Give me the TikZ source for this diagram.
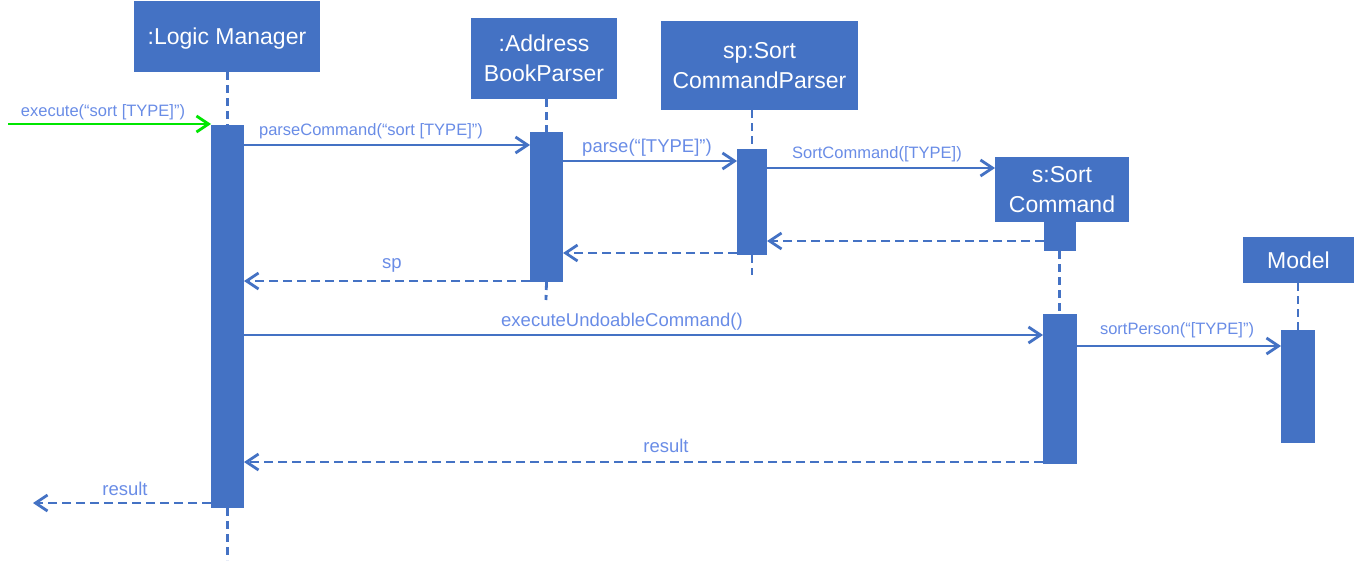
\documentclass[tikz,border=0pt]{standalone}
\usepackage{fontspec}
\setmainfont{Liberation Sans}
\usetikzlibrary{arrows.meta}
\definecolor{uml}{RGB}{68,114,196}
\definecolor{lbl}{RGB}{105,140,230}
\definecolor{grn}{RGB}{0,230,0}
\begin{document}
\begin{tikzpicture}[x=1pt,y=-1pt,
  obj/.style={fill=uml, text=white, inner sep=0pt, outer sep=0pt, anchor=north west, align=center,
    font=\fontsize{23}{30}\selectfont},
  actbar/.style={fill=uml, inner sep=0pt, outer sep=0pt, anchor=north west},
  life/.style={draw=uml, line width=2.8pt, dash pattern=on 8pt off 5pt},
  msg/.style={draw=uml, line width=2.8pt, -{Straight Barb[length=12pt,width=16pt,line width=2.8pt]}},
  ret/.style={draw=uml, line width=2.8pt, dash pattern=on 9pt off 5pt, -{Straight Barb[length=12pt,width=16pt,line width=2.8pt]}},
  lab/.style={text=lbl, inner sep=0pt, anchor=base, font=\fontsize{16.5}{18}\selectfont},
  labb/.style={text=lbl, inner sep=0pt, anchor=base, font=\fontsize{18.5}{20}\selectfont}
]
\useasboundingbox (0,0) rectangle (1354,562);

% objects
\node[obj, minimum width=186pt, minimum height=71pt, text depth=0pt] (lm) at (134,1) {:Logic Manager};
\node[obj, minimum width=146pt, minimum height=81pt] (abp) at (471,18) {:Address\\BookParser};
\node[obj, minimum width=197pt, minimum height=89pt] (scp) at (661,21) {sp:Sort\\CommandParser};
\node[obj, minimum width=134pt, minimum height=65pt] (sc) at (995,157) {s:Sort\\Command};
\node[obj, minimum width=111pt, minimum height=46pt] (model) at (1243,237) {Model};

% activation bars
\node[actbar, minimum width=33pt, minimum height=383pt] (lmact) at (211,125) {};
\node[actbar, minimum width=33pt, minimum height=150pt] (abpact) at (530,132) {};
\node[actbar, minimum width=30pt, minimum height=106pt] (scpact) at (737,149) {};
\node[actbar, minimum width=32pt, minimum height=29pt] (scnew) at (1044,222) {};
\node[actbar, minimum width=34pt, minimum height=150pt] (scact) at (1043,314) {};
\node[actbar, minimum width=34pt, minimum height=113pt] (modelact) at (1281,330) {};

% lifelines
\coordinate (lmend) at (227.5,560);
\coordinate (abpend) at (546,300);
\coordinate (scpend) at (752,275);
\draw[life] (lmact.north |- lm.south) -- (lmact.north);
\draw[life] (lmact.south) -- (lmend);
\draw[life] (abpact.north |- abp.south) -- (abpact.north);
\draw[life] (abpact.south) -- (abpend);
\draw[life] (scpact.north |- scp.south) -- (scpact.north);
\draw[life] (scpact.south) -- (scpend);
\draw[life] ([xshift=-0.5pt]scnew.south) -- ([xshift=-0.5pt]scact.north);
\draw[life] (modelact.north |- model.south) -- (modelact.north);

% messages
\coordinate (start) at (8,124);
\draw[draw=grn, line width=2.8pt, -{Straight Barb[length=12pt,width=16pt,line width=2.8pt]}] (start) -- (lmact.north west |- start);
\node[lab] (l1) at (103,116) {execute(“sort [TYPE]”)};

\draw[msg] (lmact.east |- 0,145) -- (abpact.west |- 0,145);
\node[lab] (l2) at (371,135) {parseCommand(“sort [TYPE]”)};

\draw[msg] (abpact.east |- 0,161) -- (scpact.west |- 0,161);
\node[labb] (l3) at (647,152) {parse(“[TYPE]”)};

\draw[msg] (scpact.east |- 0,168) -- (sc.west |- 0,168);
\node[lab] (l4) at (877,158) {SortCommand([TYPE])};

\draw[ret] (scnew.west |- 0,241) -- (scpact.east |- 0,241);
\draw[ret] (scpact.west |- 0,253) -- (abpact.east |- 0,253);
\draw[ret] (abpact.west |- 0,281) -- (lmact.east |- 0,281);
\node[labb] (l5) at (392,268) {sp};

\draw[msg] (lmact.east |- 0,335) -- (scact.west |- 0,335);
\node[labb] (l6) at (622,326) {executeUndoableCommand()};

\draw[msg] (scact.east |- 0,346) -- (modelact.west |- 0,346);
\node[lab] (l7) at (1177,334) {sortPerson(“[TYPE]”)};

\draw[ret] (scact.west |- 0,462) -- (lmact.east |- 0,462);
\node[labb] (l8) at (666,452) {result};

\coordinate (endres) at (33,503);
\draw[ret] (lmact.west |- endres) -- (endres);
\node[labb] (l9) at (125,495) {result};
\end{tikzpicture}
\end{document}
